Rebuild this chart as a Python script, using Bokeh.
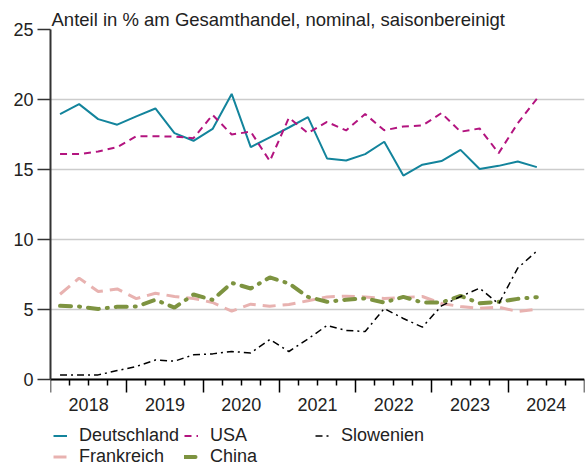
from bokeh.plotting import figure
from bokeh.models import (Range1d, FixedTicker, LinearAxis, Legend, LegendItem, ColumnDataSource,
                          CustomLabelingPolicy)
from bokeh.embed import file_html
from bokeh.resources import INLINE

years = [2018, 2019, 2020, 2021, 2022, 2023, 2024]
quarters = [f"{y}Q{q}" for y in years for q in (1, 2, 3, 4)][:26]

deutschland = [18.96, 19.67, 18.6, 18.2, 18.8, 19.36, 17.6, 17.05, 17.9, 20.4, 16.6, 17.3,
               18.0, 18.74, 15.79, 15.64, 16.1, 16.98, 14.57, 15.34, 15.6, 16.4, 15.03, 15.26,
               15.57, 15.17]
usa = [16.1, 16.1, 16.29, 16.6, 17.38, 17.38, 17.35, 17.24, 18.9, 17.5, 17.7, 15.6,
       18.7, 17.6, 18.4, 17.79, 18.96, 17.8, 18.07, 18.14, 19.03, 17.7, 17.93, 16.17,
       18.3, 20.05]
frankreich = [6.09, 7.24, 6.28, 6.47, 5.78, 6.16, 5.93, 5.79, 5.5, 4.88, 5.38, 5.24,
              5.36, 5.62, 5.9, 5.95, 5.9, 5.79, 5.86, 5.93, 5.43, 5.21, 5.09, 5.16,
              4.86, 5.02]
china = [5.26, 5.21, 5.04, 5.19, 5.21, 5.69, 5.14, 6.07, 5.69, 6.9, 6.5, 7.29,
         6.86, 5.9, 5.55, 5.7, 5.79, 5.5, 5.9, 5.5, 5.5, 5.97, 5.45, 5.55,
         5.76, 5.88]
slowenien = [0.33, 0.33, 0.33, 0.64, 0.93, 1.39, 1.31, 1.76, 1.83, 2.0, 1.9, 2.86,
             2.0, 2.9, 3.86, 3.5, 3.43, 5.07, 4.36, 3.74, 5.26, 5.93, 6.52, 5.4,
             7.96, 9.17]

title_text = "Anteil in % am Gesamthandel, nominal, saisonbereinigt"
y_ticks = [0, 5, 10, 15, 20, 25]

FONT = "Liberation Sans"

x = [int(s[:4]) + (int(s[-1]) - 0.5) / 4 for s in quarters]
src = ColumnDataSource(dict(x=x, de=deutschland, us=usa, fr=frankreich, cn=china, si=slowenien))

# frame extends below the data area to hold the axis labels and the legend (14 px per unit)
FRAME_H = 440
p = figure(frame_width=534, frame_height=FRAME_H, output_backend="svg", toolbar_location=None,
           x_range=Range1d(years[0], years[-1] + 1),
           y_range=Range1d(y_ticks[-1] - FRAME_H / 14, y_ticks[-1]),
           min_border_left=50, min_border_right=3, min_border_top=29, min_border_bottom=0)
p.outline_line_color = None
p.background_fill_color = "white"
p.border_fill_color = "white"

p.title.text = title_text
p.title.text_font = FONT
p.title.text_font_size = "18.5px"
p.title.text_font_style = "normal"
p.title.text_color = "#222222"
p.title.standoff = 0
p.title.offset = 1

# grid
p.xgrid.visible = False
p.ygrid.ticker = FixedTicker(ticks=y_ticks)
p.ygrid.grid_line_color = "#cccccc"
p.ygrid.grid_line_width = 1.5

# y axis
ya = p.yaxis[0]
ya.ticker = FixedTicker(ticks=y_ticks)
ya.bounds = (y_ticks[0], y_ticks[-1])
ya.major_tick_out = 13
ya.major_tick_in = 0
ya.minor_tick_out = 0
ya.minor_tick_in = 0
ya.axis_line_width = 2
ya.axis_line_color = "#333333"
ya.major_tick_line_color = "#333333"
ya.major_tick_line_width = 1.5
ya.major_label_text_font = FONT
ya.major_label_text_font_size = "18px"
ya.major_label_text_color = "#222222"
ya.major_label_standoff = 4

# x axis with ticks (no labels), drawn at y = 0
xa = p.xaxis[0]
year_bounds = years + [years[-1] + 1]
quarter_bounds = [y + q / 4 for y in years for q in (1, 2, 3)]
xa.fixed_location = 0
xa.ticker = FixedTicker(ticks=year_bounds, minor_ticks=quarter_bounds)
xa.major_tick_out = 13
xa.major_tick_in = 0
xa.minor_tick_out = 6
xa.minor_tick_in = 0
xa.axis_line_width = 2
xa.axis_line_color = "black"
xa.major_tick_line_color = "black"
xa.major_tick_line_width = 1.5
xa.minor_tick_line_color = "black"
xa.minor_tick_line_width = 1.5
xa.major_label_text_font = FONT
xa.major_label_text_font_size = "1px"
xa.major_label_standoff = 0
xa.axis_label_standoff = 0
xa.major_label_policy = CustomLabelingPolicy(code="""
try { for (const i of Array.from(indices)) { indices.unset(i) } } catch (e) {}
return indices
""")

# x axis labels (year centres), drawn at y = 0
centers = [y + 0.5 for y in years]
xb = LinearAxis(ticker=FixedTicker(ticks=centers), fixed_location=0,
                major_label_overrides={c: str(y) for c, y in zip(centers, years)})
xb.axis_line_color = None
xb.major_tick_line_color = None
xb.minor_tick_line_color = None
xb.major_tick_out = 0
xb.major_tick_in = 0
xb.minor_tick_out = 0
xb.minor_tick_in = 0
xb.major_label_standoff = 18
xb.axis_label_standoff = 0
xb.major_label_text_font = FONT
xb.major_label_text_font_size = "18px"
xb.major_label_text_color = "#222222"
p.add_layout(xb, "below")

r_de = p.line("x", "de", source=src, line_color="#13849c", line_width=2)
r_us = p.line("x", "us", source=src, line_color="#b3147f", line_width=2, line_dash="7 5")
r_fr = p.line("x", "fr", source=src, line_color="#e8b2b0", line_width=3, line_dash="13 7")
r_cn = p.line("x", "cn", source=src, line_color="#7d9340", line_width=4, line_dash="11 8 1 8",
              line_cap="round")
r_si = p.line("x", "si", source=src, line_color="black", line_width=1.5, line_dash="7 4 2 4")

legend = Legend(items=[LegendItem(label="Deutschland", renderers=[r_de]),
                       LegendItem(label="USA", renderers=[r_us]),
                       LegendItem(label="Slowenien", renderers=[r_si]),
                       LegendItem(label="Frankreich", renderers=[r_fr]),
                       LegendItem(label="China", renderers=[r_cn])],
                orientation="horizontal", ncols=3)
legend.location = (3, 2)
legend.label_text_font = FONT
legend.label_text_font_size = "18px"
legend.label_text_color = "#222222"
legend.glyph_width = 14
legend.glyph_height = 17
legend.label_height = 17
legend.label_width = 105
legend.label_standoff = 12
legend.spacing = 0
legend.padding = 0
legend.margin = 0
legend.border_line_color = None
legend.background_fill_alpha = 0
p.add_layout(legend, "center")

open("out.html", "w").write(file_html(p, INLINE))
